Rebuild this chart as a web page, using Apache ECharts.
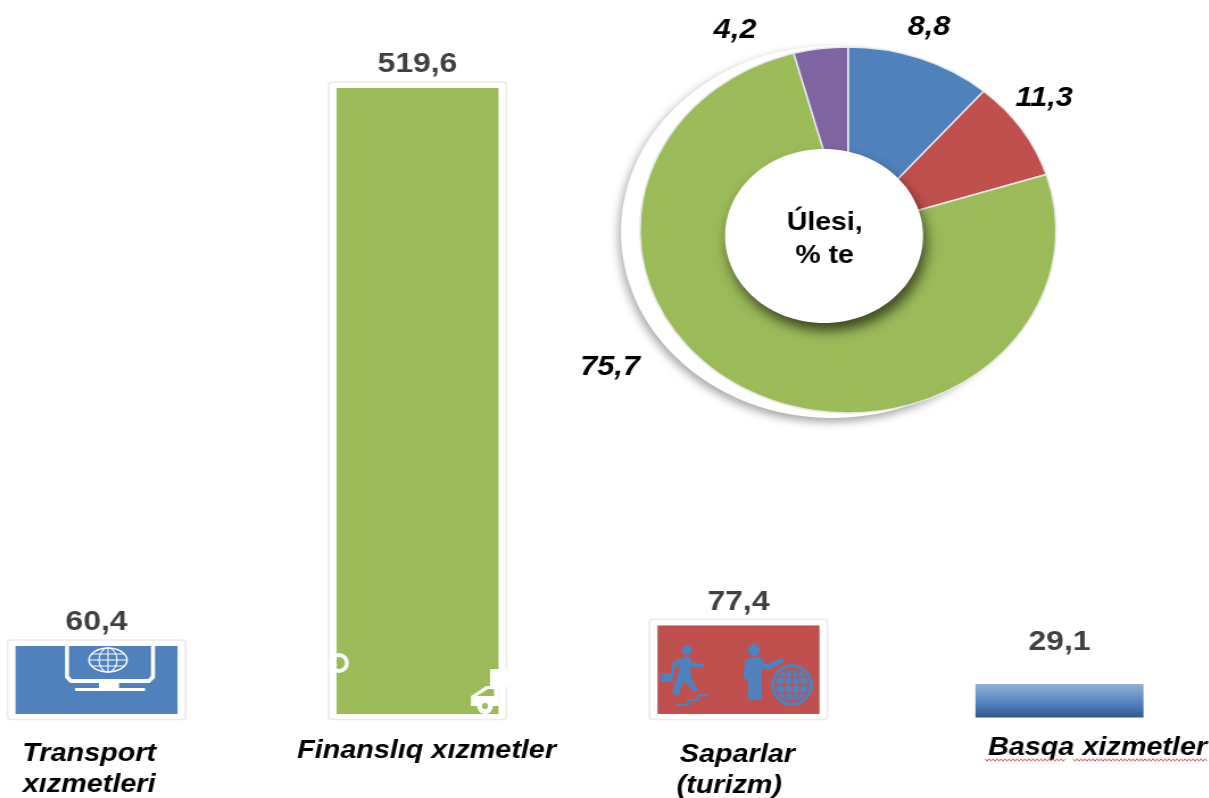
<!DOCTYPE html>
<html>
<head>
<meta charset="utf-8">
<style>
html,body{margin:0;padding:0;background:#fff;overflow:hidden}
#c{position:absolute;left:-100px;top:0;width:1170px;height:798px;transform:scaleX(1.137);transform-origin:0 0}
</style>
<script src="https://cdn.jsdelivr.net/npm/echarts@6/dist/echarts.min.js"></script>
</head>
<body>
<div id="c"></div>
<script>
const categories = ['Transport\nxızmetleri', 'Finanslıq xızmetler', 'Saparlar\n(turizm)\u00a0\u00a0', 'Basqa xizmetler'];
const barValues = [60.4, 519.6, 77.4, 29.1];
const barLabels = ['60,4', '519,6', '77,4', '29,1'];
const pieNames = ['Transport xızmetleri', 'Saparlar (turizm)', 'Finanslıq xızmetler', 'Basqa xizmetler'];
const pieValues = [11.3, 8.8, 75.7, 4.2];
const pieLabels = ['8,8', '11,3', '75,7', '4,2'];
const pieColors = ['#4f81bd', '#c0504d', '#9bbb59', '#8064a2'];
const barColors = ['#4f81bd', '#9bbb59', '#c0504d'];
const centerText = 'Úlesi,\n% te';

const S = 1.137, OFF = 100, FONT = 'Liberation Sans';
const sx = x => (x + OFF) / S;
const pieLabelPos = [[929, 28], [1044, 99], [610, 368], [735, 31]];
const catPadding = [[7, 13, 0, 0], [4, 0, 0, 16], [8, 2, 0, 0], [1, 0, 0, 67]];
const barLabelGap = [10, 10, 9, 28];

function zigzag(x0, x1, y) {
  const pts = [];
  for (let x = x0, i = 0; x <= x1; x += 2, i++) pts.push([x, y + (i % 2 ? 1.2 : -1.2)]);
  return { type: 'polyline', z: 10, shape: { points: pts }, style: { stroke: '#e0474c', lineWidth: 1, fill: null } };
}
const W = '#ffffff', B = '#4f81bd', R = '#c0504d', G = '#9bbb59';
const line = (x1, y1, x2, y2, c, w) => ({ type: 'line', z: 10, shape: { x1, y1, x2, y2 }, style: { stroke: c, lineWidth: w, lineCap: 'round' } });
const disc = (cx, cy, r, c) => ({ type: 'circle', z: 10, shape: { cx, cy, r }, style: { fill: c } });
const ring = (cx, cy, rx, ry, c, w) => ({ type: 'ellipse', z: 10, shape: { cx, cy, rx, ry }, style: { fill: null, stroke: c, lineWidth: w } });
const box = (x, y, width, height, c) => ({ type: 'rect', z: 10, shape: { x, y, width, height }, style: { fill: c } });
const poly = (points, c) => ({ type: 'polygon', z: 10, shape: { points }, style: { fill: c } });

const icons = [
  // monitor with globe
  { type: 'polyline', z: 10, shape: { points: [[67, 646], [67, 677], [71, 681], [149, 681], [153, 677], [153, 646]] }, style: { fill: null, stroke: W, lineWidth: 4 } },
  box(99, 681, 20, 8, W), box(75, 688, 70, 3, W),
  ring(108, 660, 19, 12, W, 1.5), ring(108, 660, 9, 12, W, 1.2),
  line(89, 660, 127, 660, W, 1.2), line(108, 648, 108, 672, W, 1.2), line(92, 654, 124, 654, W, 1), line(92, 666, 124, 666, W, 1),
  // fragments on the green bar
  ring(339, 663, 8, 8, W, 4), line(330, 670, 336, 665, W, 2),
  poly([[499, 686], [486, 686], [471, 696], [471, 706], [499, 706]], W),
  box(490, 669, 18, 18, W), disc(485, 706, 8, W), disc(485, 706, 3, G),
  poly([[477, 696], [488, 689], [494, 689], [494, 696]], G),
  // running man
  disc(687, 650, 5, B),
  poly([[673, 661], [688, 656], [692, 662], [704, 664], [704, 667], [690, 667], [692, 679], [698, 690], [694, 692], [684, 681], [678, 696], [672, 693], [677, 677], [680, 664], [675, 668], [674, 675], [670, 675]], B),
  box(660, 673, 13, 9, B),
  poly([[676, 704], [687, 704], [687, 699], [697, 699], [697, 694], [708, 694], [708, 696], [699, 696], [699, 701], [689, 701], [689, 706], [676, 706]], B),
  // man with globe
  disc(754, 650, 6, B),
  poly([[745, 660], [752, 657], [760, 657], [766, 664], [782, 658], [784, 662], [768, 670], [762, 668], [762, 700], [748, 700], [748, 680], [743, 678]], B),
  disc(792, 685, 21, B),
  ring(792, 685, 17, 17, R, 1.4), ring(792, 685, 8, 17, R, 1.4),
  line(775, 685, 809, 685, R, 1.4), line(792, 668, 792, 702, R, 1.4), line(778, 677, 806, 677, R, 1.2), line(778, 693, 806, 693, R, 1.2)
];

const option = {
  animation: false,
  backgroundColor: '#fff',
  title: {
    text: centerText, left: sx(819), top: 202, textAlign: 'center', z: 20,
    textStyle: { fontFamily: FONT, fontWeight: 'bold', fontSize: 25, lineHeight: 33, color: '#000' }
  },
  grid: { left: 31.7, width: 1129.2, top: 88, height: 629.5, containLabel: false, outerBoundsMode: 'none' },
  xAxis: {
    type: 'category',
    data: categories.map((c, i) => ({ value: c, textStyle: { padding: catPadding[i] } })),
    axisLine: { show: false }, axisTick: { show: false },
    axisLabel: {
      interval: 0, margin: 14, hideOverlap: false,
      fontFamily: FONT, fontWeight: 'bold', fontStyle: 'italic', fontSize: 25.3, lineHeight: 31, color: '#000'
    }
  },
  yAxis: { type: 'value', min: 1.5, max: 519.6, show: false, splitLine: { show: false } },
  graphic: [
    { type: 'group', x: OFF / S, scaleX: 1 / S, children: [
      { type: 'ellipse', z: -1, shape: { cx: 832, cy: 232, rx: 211, ry: 186 },
        style: { fill: '#fff', shadowColor: 'rgba(0,0,0,0.35)', shadowBlur: 8, shadowOffsetX: -2, shadowOffsetY: 4 } },
      { type: 'ellipse', z: 5, shape: { cx: 824, cy: 236, rx: 99, ry: 87 },
        style: { fill: '#fff', shadowColor: 'rgba(0,0,0,0.6)', shadowBlur: 12, shadowOffsetX: 3, shadowOffsetY: 8 } },
      ...icons,
      zigzag(985, 1065, 760), zigzag(1073, 1207, 760)
    ] }
  ],
  series: [
    {
      type: 'bar', barWidth: 147.8, z: 2,
      data: barValues.map((v, i) => ({
        value: v,
        label: { distance: barLabelGap[i] },
        itemStyle: i < 3
          ? { color: barColors[i] }
          : { color: { type: 'linear', x: 0, y: 0, x2: 0, y2: 1, colorStops: [
              { offset: 0, color: '#93b1d6' }, { offset: 0.6, color: '#4f81bd' }, { offset: 1, color: '#31578a' }] } }
      })),
      label: {
        show: true, position: 'top',
        formatter: p => barLabels[p.dataIndex],
        fontFamily: FONT, fontWeight: 'bold', fontSize: 28, color: '#404040'
      }
    },
    {
      // white mount with a faint edge round the three picture bars
      type: 'custom', z: 3, silent: true,
      encode: { x: 0, y: 1 },
      data: barValues.slice(0, 3).map((v, i) => [i, v]),
      renderItem: (params, api) => {
        const p = api.coord([api.value(0), api.value(1)]);
        const base = params.coordSys.y + params.coordSys.height;
        return { type: 'group', children: [
          { type: 'rect', shape: { x: p[0] - 74.75, y: p[1] - 3.5, width: 149.5, height: base - p[1] + 3.5 },
            style: { fill: 'none', stroke: '#fff', lineWidth: 7 } },
          { type: 'rect', shape: { x: p[0] - 78.25, y: p[1] - 6, width: 156.5, height: base - p[1] + 8, r: 3 },
            style: { fill: 'none', stroke: '#ececec', lineWidth: 1.6 } }
        ] };
      }
    },
    {
      type: 'pie', center: [sx(848), 230], radius: [0, 183], startAngle: 90, clockwise: true, z: 3,
      silent: true,
      data: pieValues.map((v, i) => ({ name: pieNames[i], value: v, itemStyle: { color: pieColors[i] } })),
      itemStyle: { borderColor: '#e8e8e8', borderWidth: 1.5 },
      label: {
        show: true, position: 'outside',
        formatter: p => pieLabels[p.dataIndex],
        fontFamily: FONT, fontWeight: 'bold', fontStyle: 'italic', fontSize: 27, color: '#000'
      },
      labelLine: { show: false },
      labelLayout: p => ({ x: sx(pieLabelPos[p.dataIndex][0]), y: pieLabelPos[p.dataIndex][1], align: 'center', verticalAlign: 'middle' })
    }
  ]
};
echarts.init(document.getElementById('c')).setOption(option);
</script>
</body>
</html>
